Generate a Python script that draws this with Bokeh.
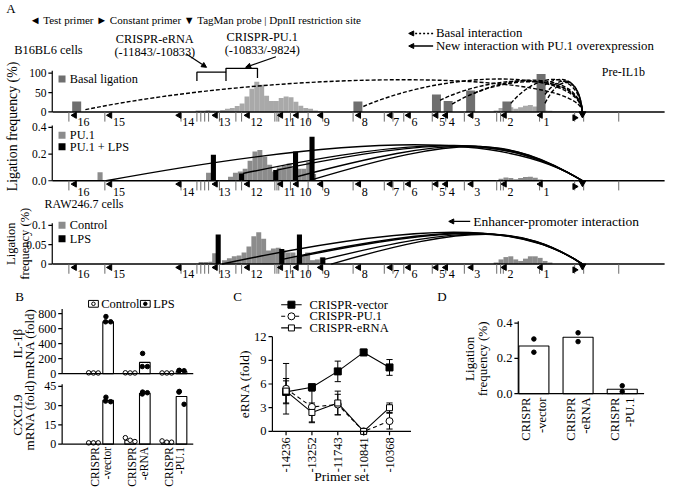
import math
from bokeh.plotting import figure
from bokeh.models import Range1d, Arrow, NormalHead
from bokeh.layouts import column, row
from bokeh.embed import file_html
from bokeh.resources import INLINE
from bokeh.core.properties import value

FONT = value("Liberation Serif")

# ======================= DATA =======================
# --- Panel A: Pre-IL1b locus (kb relative to the TaqMan anchor) ---
fragment_labels = ["16", "15", "14", "13", "12", "11", "10", "9", "8", "7", "6", "5", "4", "3", "2", "1"]
fragment_kb = [-16.91, -15.73, -13.42, -12.21, -11.14, -10.03, -9.51, -8.70,
               -7.43, -6.38, -5.77, -4.85, -4.53, -3.68, -2.57, -1.37]
dpnii_kb = [-17.10, -15.90, -13.36, -12.83, -12.70, -12.57, -12.44, -12.08, -11.53, -11.34,
            -10.23, -10.16, -10.10, -9.71, -9.12, -8.63, -7.62, -6.58, -6.29, -5.93,
            -4.98, -4.53, -3.91, -2.83, -2.70, -2.61, -1.40, -0.23, 0.07, 1.24]
constant_primer_kb = -0.23
taqman_probe_kb = 0.03
locus_kb = [-17.65, 2.77]
crispr_erna_kb = [-12.83, -11.86]
crispr_pu1_kb = [-11.86, -10.81]
bin_kb = 0.163

# B16BL6 cells
basal_kb = [-16.84, -7.46, -4.84, -4.45, -3.70, -2.49, -1.35]
basal_freq = [27, 27, 45, 28, 55, 27, 98]
b16_profile = [(-12.87, [4, 4, 5, 4, 3, 5, 8, 10, 15, 22, 40, 60, 78, 70, 42, 28, 28, 36, 40, 38, 26, 16, 10, 8, 4, 2]),
               (-6.35, [2, 2, 2]),
               (-2.93, [4, 10, 16, 12, 8, 12, 16, 18, 14, 6, 4, 3, 2, 2, 2, 2, 2])]
b16_arc_kb = [-16.55, -7.28, -4.72, -4.32, -3.58, -2.36, -1.22, -1.22, -1.22]
b16_arc_from = [6, 14, 30, 20, 48, 22, 70, 45, 22]
b16_arc_apex = [83, 85, 80, 78, 82, 84, 84, 80, 76]

# PU.1 overexpression
pu1_kb = [-16.06, -12.44]
pu1_freq = [0.064, 0.06]
pu1_profile = [(-12.93, [0.004, 0.004, 0.004, 0.004, 0.004, 0.004]),
               (-11.79, [0.03, 0.06, 0.07, 0.09, 0.15, 0.22, 0.23, 0.18, 0.12, 0.07, 0.10, 0.11, 0.13, 0.10, 0.09, 0.09, 0.14, 0.05]),
               (-2.93, [0.005, 0.015, 0.025, 0.02, 0.012, 0.02, 0.028, 0.03, 0.022, 0.01, 0.005, 0.003])]
pu1_lps_kb = [-12.28, -11.34, -10.20, -9.54, -8.99]
pu1_lps_freq = [0.195, 0.054, 0.08, 0.22, 0.33]
pu1_arc_kb = [-15.86, -11.30, -10.17, -9.50, -8.95]
pu1_arc_from = [0.0, 0.054, 0.08, 0.03, 0.01]
pu1_arc_apex = [0.27, 0.265, 0.262, 0.26, 0.257]

# RAW246.7 cells
ctrl_kb = [-12.25]
ctrl_freq = [0.028]
ctrl_profile = [(-12.77, [0.005, 0.005, 0.006]),
                (-11.99, [0.01, 0.015, 0.02, 0.022, 0.03, 0.045, 0.072, 0.082, 0.065, 0.035, 0.04, 0.042, 0.035, 0.03, 0.03, 0.02, 0.02, 0.03, 0.01, 0.012, 0.017]),
                (-2.93, [0.004, 0.012, 0.018, 0.02, 0.012, 0.008, 0.014, 0.02, 0.02, 0.016, 0.008, 0.004])]
lps_kb = [-12.12, -10.00, -9.41, -8.63]
lps_freq = [0.076, 0.039, 0.076, 0.017]
raw_arc_kb = [-11.99, -9.98, -9.36, -8.58, -8.35]
raw_arc_from = [0.0, 0.012, 0.02, 0.012, 0.0]
raw_arc_apex = [0.082, 0.08, 0.079, 0.078, 0.077]

# --- Panel B: mRNA (fold) ---
crispr_groups = [("CRISPR", "-vector"), ("CRISPR", "-eRNA"), ("CRISPR", "-PU.1")]
il1b_ctrl_mean = [10, 10, 10]
il1b_ctrl_pts = [[12, 10, 10], [12, 10, 10], [10, 10, 10]]
il1b_lps_mean = [690, 150, 30]
il1b_lps_pts = [[760, 690, 690], [270, 95, 95], [45, 40, 40]]
cxcl9_ctrl_mean = [1.0, 3.0, 1.5]
cxcl9_ctrl_pts = [[1, 1, 1], [5, 3, 2], [2.5, 1.5, 1.5]]
cxcl9_lps_mean = [34, 39.5, 37]
cxcl9_lps_pts = [[36.5, 33.5, 33], [40.5, 39, 40], [41, 40.5, 31]]

# --- Panel C: eRNA (fold) ---
primer_sets = ["-14236", "-13252", "-11743", "-10841", "-10368"]
erna_vector = [5.0, 5.6, 7.6, 10.0, 8.1]
erna_vector_sd = [1.4, 0.4, 1.3, 0.4, 1.0]
erna_pu1 = [5.4, 3.1, 3.4, 0.0, 1.3]
erna_pu1_sd = [3.2, 2.0, 1.3, 0.0, 1.0]
erna_erna = [5.1, 2.4, 3.6, 0.0, 3.0]
erna_erna_sd = [1.6, 1.2, 1.5, 0.0, 0.6]

# --- Panel D: ligation frequency ---
lig_mean = [0.27, 0.32, 0.025]
lig_pts = [[0.31, 0.235], [0.345, 0.295], [0.045, 0.012]]

# ======================= HELPERS =======================
def new_fig(w, h, ref_w, ref_h):
    p = figure(width=w, height=h, x_range=Range1d(0, ref_w), y_range=Range1d(ref_h, 0),
               x_axis_type=None, y_axis_type=None, toolbar_location=None,
               output_backend="svg", min_border=0, outline_line_color=None)
    return p

def xr(px0, k, ref_w):
    return Range1d((0 - px0) / k, (ref_w - px0) / k)

def yr(base, k, ref_h):
    return Range1d((base - ref_h) / k, base / k)

def T(p, xs, ys, texts, size, align="left", baseline="middle", angle=0.0,
      xn="default", yn="default", x_offset=0, y_offset=0):
    p.text(x=xs, y=ys, text=texts, text_font=FONT, text_font_size=f"{size}px",
           text_align=align, text_baseline=baseline, angle=angle, text_color="black",
           x_range_name=xn, y_range_name=yn, x_offset=x_offset, y_offset=y_offset)

def vaxis(p, x_px, ticks, labels, top, yn, size=11, tick_len=4, xn="default"):
    p.segment(x0=[x_px], x1=[x_px], y0=[0], y1=[top], line_color="black", line_width=1.2,
              x_range_name=xn, y_range_name=yn)
    p.segment(x0=[x_px - tick_len] * len(ticks), x1=[x_px] * len(ticks), y0=ticks, y1=ticks,
              line_color="black", line_width=1.2, x_range_name=xn, y_range_name=yn)
    T(p, [x_px - tick_len - 2] * len(ticks), ticks, labels, size, align="right", xn=xn, yn=yn)

def ctrl_height(y0, apex):
    # control height c so that max of (1-t)^3*y0 + 3t(1-t)*c equals apex
    lo, hi = 0.0, apex * 3.0
    for _ in range(50):
        c = (lo + hi) / 2
        m = max((1 - t) ** 3 * y0 + 3 * t * (1 - t) * c for t in [i / 200 for i in range(201)])
        if m > apex:
            hi = c
        else:
            lo = c
    return (lo + hi) / 2

# ======================= PANEL A =======================
REF_W, REF_HA = 683, 290
pA = new_fig(667, 281, REF_W, REF_HA)
pA.x_range = xr(595, 30.7, REF_W)          # kb
pA.extra_x_ranges = {"px": Range1d(0, REF_W)}
pA.extra_y_ranges = {"r1": yr(115, 0.4, REF_HA), "r2": yr(186, 137.5, REF_HA), "r3": yr(272, 400, REF_HA)}

rows_cfg = [
    dict(name="r1", base=115, lab=10, ticks=[0, 50, 100], tl=["0", "50", "100"], top=106),
    dict(name="r2", base=186, lab=12, ticks=[0, 0.2, 0.4], tl=["0.0", "0.2", "0.4"], top=0.415),
    dict(name="r3", base=272, lab=10, ticks=[0, 0.05, 0.1], tl=["0", "0.05", "0.1"], top=0.105),
]

def profile(p, runs, color, yn):
    xs, tops = [], []
    for start, vals in runs:
        for i, v in enumerate(vals):
            xs.append(start + bin_kb * (i + 0.5))
            tops.append(v)
    p.vbar(x=xs, top=tops, bottom=0, width=bin_kb * 1.02, fill_color=color, line_color=None, y_range_name=yn)

def arcs(p, xs, ys, apex, c1_frac, c2_kb, yn, dash):
    n = len(xs)
    cy = [ctrl_height(y, a) for a, y in zip(apex, ys)]
    p.bezier(x0=xs, y0=ys, x1=[taqman_probe_kb] * n, y1=[0] * n,
             cx0=[c1_frac * x for x in xs], cy0=cy, cx1=[c2_kb] * n, cy1=cy,
             line_color="black", line_width=1.4, line_dash=dash, y_range_name=yn)

GRAY_D = "#6f6f6f"
GRAY_L = "#a9a9a9"
GRAY_M = "#8c8c8c"

profile(pA, b16_profile, GRAY_L, "r1")
pA.vbar(x=basal_kb, top=basal_freq, bottom=0, width=0.30, fill_color=GRAY_D, line_color=None, y_range_name="r1")
profile(pA, pu1_profile, GRAY_M, "r2")
pA.vbar(x=pu1_kb, top=pu1_freq, bottom=0, width=0.17, fill_color=GRAY_M, line_color=None, y_range_name="r2")
pA.vbar(x=pu1_lps_kb, top=pu1_lps_freq, bottom=0, width=0.17, fill_color="black", line_color=None, y_range_name="r2")
profile(pA, ctrl_profile, GRAY_M, "r3")
pA.vbar(x=ctrl_kb, top=ctrl_freq, bottom=0, width=0.14, fill_color=GRAY_M, line_color=None, y_range_name="r3")
pA.vbar(x=lps_kb, top=lps_freq, bottom=0, width=0.17, fill_color="black", line_color=None, y_range_name="r3")

arcs(pA, b16_arc_kb, b16_arc_from, b16_arc_apex, 0.6, -0.1, "r1", "4 2")
arcs(pA, pu1_arc_kb, pu1_arc_from, pu1_arc_apex, 0.45, -2.5, "r2", "solid")
arcs(pA, raw_arc_kb, raw_arc_from, raw_arc_apex, 0.45, -2.0, "r3", "solid")

n_f = len(fragment_kb)
for cfg in rows_cfg:
    b = cfg["base"]
    pA.segment(x0=[locus_kb[0]], x1=[locus_kb[1]], y0=[b], y1=[b], line_color="black", line_width=1.6)
    pA.segment(x0=dpnii_kb, x1=dpnii_kb, y0=[b] * len(dpnii_kb), y1=[b + 10] * len(dpnii_kb),
               line_color="#6a6a6a", line_width=1)
    pA.scatter(x=fragment_kb, y=[b + 3.5] * n_f, marker="triangle", angle=math.pi / 2, size=6,
               fill_color="black", line_color="black")
    T(pA, fragment_kb, [b + cfg["lab"]] * n_f, fragment_labels, 12, x_offset=3)
    pA.scatter(x=[constant_primer_kb], y=[b + 6], marker="triangle", angle=-math.pi / 2, size=6,
               fill_color="black", line_color="black")
    pA.scatter(x=[taqman_probe_kb], y=[b + 2], marker="triangle", angle=math.pi, size=7,
               fill_color="black", line_color="black")
    vaxis(pA, 53, cfg["ticks"], cfg["tl"], cfg["top"], cfg["name"], size=11.5, xn="px")

pA.scatter(x=[63, 63, 63, 63, 63], y=[81, 139, 151, 232, 246], marker="square", size=7, line_color=None,
           fill_color=[GRAY_D, GRAY_M, "black", GRAY_M, "black"], x_range_name="px")
T(pA, [71, 71, 71, 71, 71], [81, 139, 151, 232, 246],
  ["Basal ligation", "PU.1", "PU.1 + LPS", "Control", "LPS"], 12.3, xn="px")

# header texts
T(pA, [6], [8], ["A"], 13, xn="px")
T(pA, [30], [20], ["\u25C4 Test primer  \u25BA Constant primer  \u25BC TagMan probe  |  DpnII restriction site"], 11, xn="px")
T(pA, [446, 446], [34, 47], ["Basal interaction", "New interaction with PU.1 overexpression"], 12.8, xn="px")
T(pA, [14], [51], ["B16BL6 cells"], 12.4, xn="px")
T(pA, [45], [210], ["RAW246.7 cells"], 12, xn="px")
T(pA, [660], [74], ["Pre-IL1b"], 12, align="right", xn="px")
T(pA, [158, 158], [40, 53], ["CRISPR-eRNA", "(-11843/-10833)"], 12.3, align="center", xn="px")
T(pA, [268, 268], [38, 51], ["CRISPR-PU.1", "(-10833/-9824)"], 12.3, align="center", xn="px")
T(pA, [484], [228], ["Enhancer-promoter interaction"], 13.5, xn="px")
T(pA, [12], [130], ["Ligation frequency (%)"], 13.8, align="center", angle=math.pi / 2, xn="px")
T(pA, [11, 25], [251, 251], ["Ligation", "frequency (%)"], 12.5, align="center", angle=math.pi / 2, xn="px")

for ys, dash in ((34, "2 2"), (47, "solid")):
    pA.add_layout(Arrow(end=NormalHead(size=5, fill_color="black", line_color="black"),
                        x_start=443, y_start=ys, x_end=418, y_end=ys, line_width=1.4,
                        line_dash=dash, x_range_name="px"))
pA.add_layout(Arrow(end=NormalHead(size=5, fill_color="black", line_color="black"),
                    x_start=481, y_start=228, x_end=459, y_end=228, line_width=1.4, x_range_name="px"))
pA.add_layout(Arrow(end=NormalHead(size=5, fill_color="black", line_color="black"),
                    x_start=190, y_start=55, x_end=211, y_end=69, line_width=1.2, x_range_name="px"))
pA.add_layout(Arrow(end=NormalHead(size=5, fill_color="black", line_color="black"),
                    x_start=282, y_start=58, x_end=251, y_end=69, line_width=1.2, x_range_name="px"))
e0, e1 = crispr_erna_kb
u0, u1 = crispr_pu1_kb
pA.multi_line(xs=[[e0, e0, e1, e1], [u0, u0, u1, u1]], ys=[[83, 74, 74, 83], [74, 70, 70, 80]],
              line_color="black", line_width=1.3)

# ======================= PANEL B =======================
def panel_b(w, h, ref_h, base, k, top, ticks, tl, ctrl_mean, ctrl_pts, lps_mean, lps_pts):
    p = new_fig(w, h, 232, ref_h)
    p.extra_x_ranges = {"g": xr(102.5, 37.5, 232)}
    p.extra_y_ranges = {"v": yr(base, k, ref_h)}
    g = list(range(len(crispr_groups)))
    p.vbar(x=[i - 0.2 for i in g], top=ctrl_mean, width=0.29, bottom=0, fill_color="white",
           line_color="black", line_width=1.1, x_range_name="g", y_range_name="v")
    p.vbar(x=[i + 0.2 for i in g], top=lps_mean, width=0.29, bottom=0, fill_color="white",
           line_color="black", line_width=1.1, x_range_name="g", y_range_name="v")
    jit_c = [-0.13, 0.0, 0.13]
    jit_l = [-0.06, -0.07, 0.07]
    cx, cy, lx, ly = [], [], [], []
    for i in g:
        for j in range(3):
            cx.append(i - 0.2 + jit_c[j]); cy.append(ctrl_pts[i][j])
            lx.append(i + 0.2 + jit_l[j]); ly.append(lps_pts[i][j])
    p.scatter(x=cx, y=cy, marker="circle", size=4.5, fill_color="white", line_color="black",
              line_width=1, x_range_name="g", y_range_name="v")
    p.scatter(x=lx, y=ly, marker="circle", size=4.5, fill_color="black", line_color="black",
              x_range_name="g", y_range_name="v")
    p.segment(x0=[63], x1=[197], y0=[0], y1=[0], line_color="black", line_width=1.2, y_range_name="v")
    vaxis(p, 63, ticks, tl, top, "v", size=12)
    return p

pB1 = panel_b(227, 99, 102, 95, 62 / 800, 860, [0, 200, 400, 600, 800],
              ["0", "200", "400", "600", "800"], il1b_ctrl_mean, il1b_ctrl_pts, il1b_lps_mean, il1b_lps_pts)
T(pB1, [15], [15], ["B"], 13)
T(pB1, [17, 30], [64, 64], ["IL-1\u03b2", "mRNA (fold)"], 13, align="center", angle=math.pi / 2)
pB1.rect(x=[95, 148], y=[23, 23], width=10, height=7, fill_color="white", line_color="black")
pB1.scatter(x=[95], y=[23], marker="circle", size=3.5, fill_color="white", line_color="black")
pB1.scatter(x=[148], y=[23], marker="circle", size=3.5, fill_color="black", line_color="black")
T(pB1, [103, 156], [23, 23], ["Control", "LPS"], 12.5)

pB2 = panel_b(227, 107, 111, 66, 60 / 45, 46.5, [0, 15, 30, 45],
              ["0", "15", "30", "45"], cxcl9_ctrl_mean, cxcl9_ctrl_pts, cxcl9_lps_mean, cxcl9_lps_pts)
T(pB2, [17, 30], [36, 36], ["CXCL9", "mRNA (fold)"], 13, align="center", angle=math.pi / 2)
gB = list(range(len(crispr_groups)))
T(pB2, [i - 0.15 for i in gB], [69] * 3, [c[0] for c in crispr_groups], 11.5,
  align="right", angle=math.pi / 2, xn="g")
T(pB2, [i + 0.17 for i in gB], [69] * 3, [c[1] for c in crispr_groups], 11.5,
  align="right", angle=math.pi / 2, xn="g")

# ======================= PANEL C =======================
pC = new_fig(203, 206, 208, 213)
pC.extra_x_ranges = {"c": xr(60, 26.5, 208)}
pC.extra_y_ranges = {"v": yr(155, 98 / 12, 213)}
ci = list(range(len(primer_sets)))
series = [
    (erna_vector, erna_vector_sd, "solid", "square", "black", 7),
    (erna_pu1, erna_pu1_sd, "4 3", "circle", "white", 7),
    (erna_erna, erna_erna_sd, "solid", "square", "white", 6),
]
for vals, sd, dash, mk, fill, sz in series:
    pC.line(x=ci, y=vals, line_color="black", line_width=1.1, line_dash=dash, x_range_name="c", y_range_name="v")
    lo = [v - s for v, s in zip(vals, sd)]
    hi = [v + s for v, s in zip(vals, sd)]
    pC.segment(x0=ci, x1=ci, y0=lo, y1=hi, line_color="black", line_width=1, x_range_name="c", y_range_name="v")
    for ends in (lo, hi):
        pC.segment(x0=[i - 0.12 for i in ci], x1=[i + 0.12 for i in ci], y0=ends, y1=ends,
                   line_color="black", line_width=1, x_range_name="c", y_range_name="v")
for vals, sd, dash, mk, fill, sz in series:
    pC.scatter(x=ci, y=vals, marker=mk, size=sz, fill_color=fill, line_color="black", line_width=1,
               x_range_name="c", y_range_name="v")
pC.segment(x0=[46], x1=[188], y0=[0], y1=[0], line_color="black", line_width=1.2, y_range_name="v")
pC.segment(x0=ci, x1=ci, y0=[155] * 5, y1=[159] * 5, line_color="black", line_width=1.2, x_range_name="c")
vaxis(pC, 46, [0, 3, 6, 9, 12], ["0", "3", "6", "9", "12"], 12, "v", size=12.5)
T(pC, ci, [161] * 5, primer_sets, 12.5, align="right", angle=math.pi / 2, xn="c")
T(pC, [117], [202], ["Primer set"], 13.5, align="center")
T(pC, [17], [106], ["eRNA (fold)"], 13.5, align="center", angle=math.pi / 2)
T(pC, [6], [15], ["C"], 13)
leg_y = [24, 36, 48]
leg_names = ["CRISPR-vector", "CRISPR-PU.1", "CRISPR-eRNA"]
for (vals, sd, dash, mk, fill, sz), yy in zip(series, leg_y):
    pC.segment(x0=[55], x1=[76], y0=[yy], y1=[yy], line_color="black", line_width=1.1, line_dash=dash)
    pC.scatter(x=[65.5], y=[yy], marker=mk, size=sz, fill_color=fill, line_color="black")
T(pC, [84] * 3, leg_y, leg_names, 12.5)

# ======================= PANEL D =======================
pD = new_fig(237, 206, 243, 213)
pD.extra_x_ranges = {"c": xr(106, 45.3, 243)}
pD.extra_y_ranges = {"v": yr(116, 73 / 0.4, 213)}
di = list(range(len(lig_mean)))
pD.vbar(x=di, top=lig_mean, width=0.68, bottom=0, fill_color="white", line_color="black",
        line_width=1.1, x_range_name="c", y_range_name="v")
dx, dy = [], []
for i in di:
    for v in lig_pts[i]:
        dx.append(i); dy.append(v)
pD.scatter(x=dx, y=dy, marker="circle", size=4.5, fill_color="black", line_color="black",
           x_range_name="c", y_range_name="v")
pD.segment(x0=[90], x1=[219], y0=[0], y1=[0], line_color="black", line_width=1.2, y_range_name="v")
vaxis(pD, 90, [0, 0.2, 0.4], ["0.0", "0.2", "0.4"], 0.41, "v", size=12.5)
T(pD, [40, 53], [80, 80], ["Ligation", "frequency (%)"], 13, align="center", angle=math.pi / 2)
T(pD, [7], [15], ["D"], 13)
T(pD, [i - 0.17 for i in di], [120] * 3, [c[0] for c in crispr_groups], 12.5,
  align="right", angle=math.pi / 2, xn="c")
T(pD, [i + 0.18 for i in di], [120] * 3, [c[1] for c in crispr_groups], 12.5,
  align="right", angle=math.pi / 2, xn="c")

layout = column(pA, row(column(pB1, pB2), pC, pD))
open("out.html", "w").write(file_html(layout, INLINE))
